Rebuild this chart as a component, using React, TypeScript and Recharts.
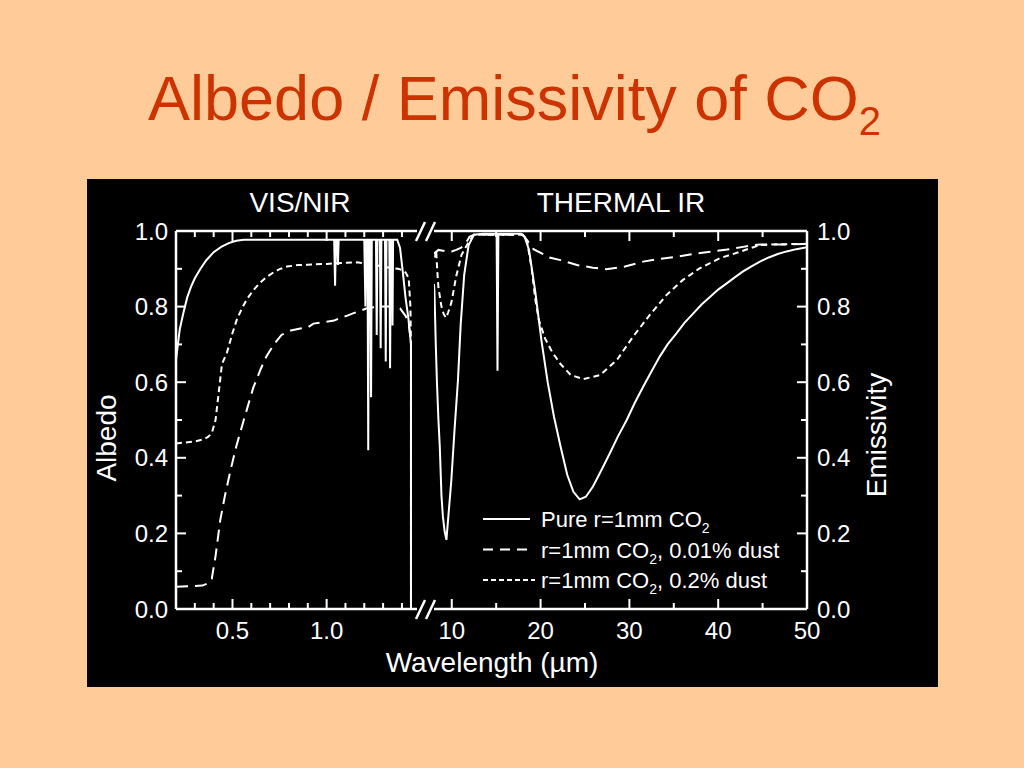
import React from "react";
import { LineChart, Line, XAxis, YAxis } from "recharts";

// ---- VIS/NIR panel (wavelength in µm, albedo) ----
const visPureWl = [0.2, 0.22, 0.24, 0.26, 0.28, 0.3, 0.33, 0.36, 0.4, 0.44, 0.48, 0.52, 0.56, 1.04, 1.045, 1.049, 1.056, 1.06, 1.064, 1.2, 1.206, 1.21, 1.217, 1.221, 1.225, 1.232, 1.236, 1.24, 1.262, 1.266, 1.27, 1.283, 1.287, 1.291, 1.31, 1.314, 1.318, 1.333, 1.337, 1.341, 1.347, 1.35, 1.353, 1.375, 1.39, 1.405, 1.42, 1.434, 1.443, 1.448, 1.448];
const visPureAlb = [0.66, 0.74, 0.785, 0.825, 0.853, 0.875, 0.9, 0.922, 0.944, 0.958, 0.968, 0.974, 0.977, 0.977, 0.855, 0.977, 0.977, 0.91, 0.977, 0.977, 0.8, 0.977, 0.977, 0.42, 0.977, 0.977, 0.56, 0.977, 0.977, 0.725, 0.977, 0.977, 0.69, 0.977, 0.977, 0.655, 0.977, 0.977, 0.637, 0.977, 0.977, 0.75, 0.977, 0.977, 0.955, 0.89, 0.82, 0.77, 0.725, 0.7, 0];

const visDust1Wl = [0.2, 0.34, 0.37, 0.39, 0.41, 0.435, 0.46, 0.49, 0.52, 0.56, 0.61, 0.65, 0.68, 0.72, 0.76, 0.81, 0.86, 0.9, 0.93, 0.97, 1.0, 1.04, 1.08, 1.11, 1.14, 1.18, 1.21, 1.25, 1.3, 1.35, 1.39, 1.42, 1.436, 1.445, 1.448, 1.448];
const visDust1Alb = [0.059, 0.062, 0.068, 0.08, 0.14, 0.235, 0.3, 0.368, 0.43, 0.5, 0.585, 0.635, 0.668, 0.7, 0.725, 0.737, 0.742, 0.745, 0.755, 0.758, 0.76, 0.763, 0.772, 0.776, 0.782, 0.789, 0.795, 0.798, 0.8, 0.8, 0.795, 0.775, 0.755, 0.72, 0.7, 0];

const visDust2Wl = [0.2, 0.3, 0.347, 0.37, 0.39, 0.41, 0.427, 0.444, 0.471, 0.5, 0.524, 0.55, 0.577, 0.61, 0.648, 0.68, 0.719, 0.75, 0.79, 0.85, 0.9, 1.0, 1.1, 1.16, 1.22, 1.28, 1.32, 1.38, 1.4, 1.42, 1.436, 1.445, 1.448, 1.448];
const visDust2Alb = [0.438, 0.443, 0.449, 0.455, 0.465, 0.5, 0.573, 0.648, 0.679, 0.73, 0.767, 0.795, 0.82, 0.843, 0.864, 0.878, 0.891, 0.899, 0.906, 0.91, 0.911, 0.913, 0.916, 0.917, 0.913, 0.908, 0.904, 0.9, 0.897, 0.89, 0.875, 0.8, 0.7, 0];

// ---- Thermal IR panel (wavelength in µm, emissivity) ----
const irPureWl = [8.0, 8.05, 8.2, 8.33, 8.5, 8.65, 8.84, 9.0, 9.2, 9.4, 9.58, 9.95, 10.3, 10.7, 11.0, 11.4, 11.9, 12.5, 13.5, 15.05, 15.15, 15.25, 17.8, 18.2, 18.7, 19.4, 20.1, 20.8, 21.5, 22.25, 23.0, 23.7, 24.4, 25.1, 25.9, 26.8, 27.8, 28.7, 29.7, 30.6, 31.55, 32.5, 33.4, 34.3, 35.3, 36.2, 37.2, 38.1, 39.1, 40.0, 41.0, 41.9, 42.8, 43.7, 44.7, 45.7, 46.7, 47.7, 48.8, 50];
const irPureEm = [0.86, 0.84, 0.7, 0.6, 0.5, 0.43, 0.3, 0.245, 0.205, 0.183, 0.235, 0.34, 0.47, 0.606, 0.751, 0.884, 0.963, 0.99, 0.993, 0.993, 0.63, 0.993, 0.993, 0.985, 0.95, 0.84, 0.71, 0.6, 0.51, 0.43, 0.355, 0.31, 0.29, 0.297, 0.324, 0.365, 0.412, 0.456, 0.5, 0.545, 0.588, 0.629, 0.667, 0.7, 0.729, 0.757, 0.782, 0.805, 0.826, 0.845, 0.862, 0.878, 0.893, 0.906, 0.919, 0.93, 0.939, 0.946, 0.952, 0.957];

const irDust1Wl = [8.0, 8.5, 9.0, 9.5, 10.0, 10.5, 11.0, 11.5, 12.0, 12.5, 18.0, 18.5, 19.2, 21.0, 22.25, 24.1, 25.9, 27.4, 29.5, 31.55, 33.4, 35.3, 37.2, 39.1, 41.0, 42.8, 44.0, 44.7, 47.0, 50];
const irDust1Em = [0.94, 0.95, 0.948, 0.945, 0.946, 0.95, 0.955, 0.965, 0.985, 0.99, 0.99, 0.975, 0.952, 0.93, 0.923, 0.91, 0.903, 0.899, 0.906, 0.919, 0.926, 0.932, 0.939, 0.945, 0.951, 0.958, 0.963, 0.964, 0.964, 0.966];

const irDust2Wl = [8.1, 8.25, 8.35, 8.5, 8.84, 9.1, 9.36, 9.6, 9.95, 10.5, 11.1, 11.5, 12.0, 12.5, 18.0, 18.5, 19.0, 19.4, 19.8, 20.5, 21.3, 22.25, 23.4, 24.8, 26.7, 28.6, 30.4, 32.3, 34.2, 36.0, 37.9, 40.2, 42.45, 44.7, 47.0, 50];
const irDust2Em = [0.93, 0.95, 0.9, 0.85, 0.8, 0.78, 0.77, 0.785, 0.81, 0.88, 0.937, 0.954, 0.975, 0.99, 0.99, 0.97, 0.9, 0.82, 0.765, 0.716, 0.68, 0.648, 0.619, 0.608, 0.619, 0.659, 0.72, 0.778, 0.831, 0.87, 0.901, 0.928, 0.945, 0.963, 0.965, 0.966];

// ---- ticks ----
const visTicks = [0.3, 0.4, 0.5, 0.6, 0.7, 0.8, 0.9, 1.0, 1.1, 1.2, 1.3, 1.4];
const visMajor = [0.5, 1.0];
const irTicks = [10, 15, 20, 25, 30, 35, 40, 45, 50];
const irMajor = [10, 20, 30, 40, 50];
const yTicks = [0, 0.1, 0.2, 0.3, 0.4, 0.5, 0.6, 0.7, 0.8, 0.9, 1.0];
const yMajor = [0, 0.2, 0.4, 0.6, 0.8, 1.0];

const legendLabels = ["Pure r=1mm CO", "r=1mm CO", "r=1mm CO"];
const legendTails = ["", ", 0.01% dust", ", 0.2% dust"];

const zip = (xs: number[], ys: number[]) => xs.map((x, i) => ({ x, y: ys[i] }));

const FONT = "'Liberation Sans', Arial, Helvetica, sans-serif";
const WHITE = "#ffffff";
const LONG_DASH = "12 7";
const SHORT_DASH = "6 4";
const TICK_FONT = 24;

const isIn = (list: number[], v: number) => list.some((m) => Math.abs(m - v) < 1e-6);

const xTick = (majors: number[], side: "bottom" | "top", fmt: (v: number) => string) => (p: any) => {
  const v = p.payload.value;
  const major = isIn(majors, v);
  const len = major ? 10 : 6;
  const dir = side === "bottom" ? -1 : 1;
  return (
    <g>
      <line x1={p.x} x2={p.x} y1={p.y} y2={p.y + dir * len} stroke={WHITE} strokeWidth={2} />
      {side === "bottom" && major && (
        <text x={p.x} y={p.y + 30} textAnchor="middle" fill={WHITE} fontSize={TICK_FONT} fontFamily={FONT}>
          {fmt(v)}
        </text>
      )}
    </g>
  );
};

const yTick = (side: "left" | "right") => (p: any) => {
  const v = p.payload.value;
  const major = isIn(yMajor, v);
  const len = major ? 10 : 6;
  const dir = side === "left" ? 1 : -1;
  return (
    <g>
      <line x1={p.x} x2={p.x + dir * len} y1={p.y} y2={p.y} stroke={WHITE} strokeWidth={2} />
      {major && (
        <text
          x={side === "left" ? p.x - 8 : p.x + 10}
          y={p.y + 8.5}
          textAnchor={side === "left" ? "end" : "start"}
          fill={WHITE}
          fontSize={TICK_FONT}
          fontFamily={FONT}
        >
          {v.toFixed(1)}
        </text>
      )}
    </g>
  );
};

const axisLine = { stroke: WHITE, strokeWidth: 2.5 };

function VisPanel() {
  return (
    <LineChart width={340} height={508} margin={{ top: 42, right: 10, bottom: 48, left: 29 }}>
      <XAxis xAxisId="b" type="number" dataKey="x" domain={[0.2, 1.48]} allowDataOverflow ticks={visTicks} interval={0}
        tick={xTick(visMajor, "bottom", (v) => v.toFixed(1))} tickLine={false} tickSize={0} tickMargin={0} axisLine={axisLine} height={30} />
      <XAxis xAxisId="t" orientation="top" type="number" dataKey="x" domain={[0.2, 1.48]} allowDataOverflow ticks={visTicks} interval={0}
        tick={xTick(visMajor, "top", (v) => v.toFixed(1))} tickLine={false} tickSize={0} tickMargin={0} axisLine={axisLine} height={10} />
      <YAxis yAxisId="a" type="number" domain={[0, 1]} allowDataOverflow ticks={yTicks} interval={0}
        tick={yTick("left")} tickLine={false} tickSize={0} tickMargin={0} axisLine={axisLine} width={60} />
      <Line xAxisId="b" yAxisId="a" data={zip(visDust2Wl, visDust2Alb)} dataKey="y" type="linear" stroke={WHITE} strokeWidth={2} strokeDasharray={SHORT_DASH} dot={false} isAnimationActive={false} />
      <Line xAxisId="b" yAxisId="a" data={zip(visDust1Wl, visDust1Alb)} dataKey="y" type="linear" stroke={WHITE} strokeWidth={2} strokeDasharray={LONG_DASH} dot={false} isAnimationActive={false} />
      <Line xAxisId="b" yAxisId="a" data={zip(visPureWl, visPureAlb)} dataKey="y" type="linear" stroke={WHITE} strokeWidth={2} dot={false} isAnimationActive={false} />
    </LineChart>
  );
}

function IrPanel() {
  return (
    <LineChart width={511} height={508} margin={{ top: 42, right: 71, bottom: 48, left: 7 }}>
      <XAxis xAxisId="b" type="number" dataKey="x" domain={[8, 50]} allowDataOverflow ticks={irTicks} interval={0}
        tick={xTick(irMajor, "bottom", (v) => String(v))} tickLine={false} tickSize={0} tickMargin={0} axisLine={axisLine} height={30} />
      <XAxis xAxisId="t" orientation="top" type="number" dataKey="x" domain={[8, 50]} allowDataOverflow ticks={irTicks} interval={0}
        tick={xTick(irMajor, "top", (v) => String(v))} tickLine={false} tickSize={0} tickMargin={0} axisLine={axisLine} height={10} />
      <YAxis yAxisId="e" orientation="right" type="number" domain={[0, 1]} allowDataOverflow ticks={yTicks} interval={0}
        tick={yTick("right")} tickLine={false} tickSize={0} tickMargin={0} axisLine={axisLine} width={60} />
      <Line xAxisId="b" yAxisId="e" data={zip(irDust2Wl, irDust2Em)} dataKey="y" type="linear" stroke={WHITE} strokeWidth={2} strokeDasharray={SHORT_DASH} dot={false} isAnimationActive={false} />
      <Line xAxisId="b" yAxisId="e" data={zip(irDust1Wl, irDust1Em)} dataKey="y" type="linear" stroke={WHITE} strokeWidth={2} strokeDasharray={LONG_DASH} dot={false} isAnimationActive={false} />
      <Line xAxisId="b" yAxisId="e" data={zip(irPureWl, irPureEm)} dataKey="y" type="linear" stroke={WHITE} strokeWidth={2} dot={false} isAnimationActive={false} />
    </LineChart>
  );
}

export default function App() {
  const legendDash = [undefined, "10 7", "5 3"];
  return (
    <div style={{ position: "absolute", left: 0, top: 0, width: 1024, height: 768, background: "#FFCC99", overflow: "hidden" }}>
      <div style={{ position: "absolute", left: 87, top: 179, width: 851, height: 508, background: "#000" }} />
      <div style={{ position: "absolute", left: 87, top: 179 }}>
        <VisPanel />
      </div>
      <div style={{ position: "absolute", left: 427, top: 179 }}>
        <IrPanel />
      </div>
      <svg width={1024} height={768} style={{ position: "absolute", left: 0, top: 0, pointerEvents: "none" }} fontFamily={FONT}>
        <text x={148} y={120} fontSize={63} fill="#CC3300">
          Albedo / Emissivity of CO<tspan fontSize={40} dy={15}>2</tspan>
        </text>

        <text x={300} y={212} fontSize={28} fill={WHITE} textAnchor="middle">VIS/NIR</text>
        <text x={621} y={212} fontSize={28} fill={WHITE} textAnchor="middle">THERMAL IR</text>
        <text x={492} y={672} fontSize={28} fill={WHITE} textAnchor="middle">Wavelength (µm)</text>
        <text x={116} y={438} fontSize={28} fill={WHITE} textAnchor="middle" transform="rotate(-90 116 438)">Albedo</text>
        <text x={886} y={435} fontSize={28} fill={WHITE} textAnchor="middle" transform="rotate(-90 886 435)">Emissivity</text>

        {/* axis break marks */}
        {[231, 609].map((y) => (
          <g key={y} stroke={WHITE} strokeWidth={2.5}>
            <line x1={416} y1={y + 10} x2={425} y2={y - 9} />
            <line x1={426} y1={y + 10} x2={435} y2={y - 9} />
          </g>
        ))}

        {/* legend */}
        {legendLabels.map((lab, i) => {
          const ly = 519 + i * 30.5;
          return (
            <g key={i}>
              <line x1={483} x2={i === 2 ? 535 : 530} y1={ly} y2={ly} stroke={WHITE} strokeWidth={2} strokeDasharray={legendDash[i]} />
              <text x={541} y={ly + 8} fontSize={22} fill={WHITE}>
                {lab}
                <tspan fontSize={14} dy={6}>2</tspan>
                {legendTails[i] && <tspan dy={-6}>{legendTails[i]}</tspan>}
              </text>
            </g>
          );
        })}
      </svg>
    </div>
  );
}
